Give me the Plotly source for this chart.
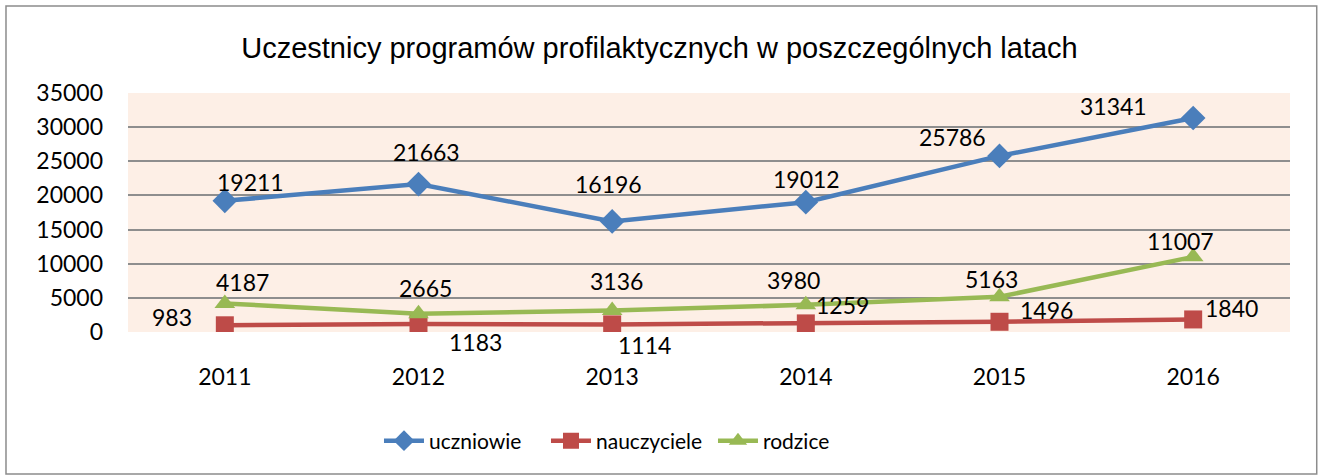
import plotly.graph_objects as go

years = ["2011", "2012", "2013", "2014", "2015", "2016"]
uczniowie = [19211, 21663, 16196, 19012, 25786, 31341]
nauczyciele = [983, 1183, 1114, 1259, 1496, 1840]
rodzice = [4187, 2665, 3136, 3980, 5163, 11007]
y_ticks = [0, 5000, 10000, 15000, 20000, 25000, 30000, 35000]

# label offsets (px) relative to each point
off_u = [(26, -19), (8, -32), (-4, -37), (1, -23), (-47, -19), (-80, -12)]
off_n = [(-53, -8), (57, 18), (32, 21), (37, -18), (47, -12), (38, -11)]
off_r = [(18, -21), (7, -26), (4, -30), (-12, -25), (-8, -18), (-13, -16)]

BLUE = "#4A7EBB"
RED = "#BE4B48"
GREEN = "#98B954"
FONT = "Lato"

fig = go.Figure()
fig.add_trace(go.Scatter(x=years, y=uczniowie, name="uczniowie", mode="lines+markers",
                         line=dict(color=BLUE, width=4.5),
                         marker=dict(symbol="diamond", size=19, color=BLUE)))
fig.add_trace(go.Scatter(x=years, y=nauczyciele, name="nauczyciele", mode="lines+markers",
                         line=dict(color=RED, width=4.5),
                         marker=dict(symbol="square", size=18, color=RED)))
fig.add_trace(go.Scatter(x=years, y=rodzice, name="rodzice", mode="lines+markers",
                         line=dict(color=GREEN, width=4.5),
                         marker=dict(symbol="triangle-up", size=18, color=GREEN)))

annotations = []
for vals, offs in ((uczniowie, off_u), (nauczyciele, off_n), (rodzice, off_r)):
    for i, (v, (dx, dy)) in enumerate(zip(vals, offs)):
        annotations.append(dict(x=i, y=v, xref="x", yref="y", text=str(v), showarrow=False,
                                xshift=dx, yshift=-dy,
                                font=dict(family=FONT, size=23, color="#000000")))

fig.update_layout(
    width=1319, height=475,
    margin=dict(l=128, r=29, t=93, b=143),
    paper_bgcolor="white",
    plot_bgcolor="#FDEFE6",
    title=dict(text="Uczestnicy programów profilaktycznych w poszczególnych latach",
               x=0.5, xanchor="center", y=0.90, yanchor="middle",
               font=dict(family="Liberation Sans", size=29, color="#000000")),
    showlegend=True,
    legend=dict(orientation="h", x=0.216, xanchor="left", y=-0.456, yanchor="middle",
                font=dict(family=FONT, size=21, color="#000000"),
                itemwidth=40, entrywidth=112, bgcolor="rgba(0,0,0,0)"),
    annotations=annotations,
    shapes=[dict(type="rect", xref="paper", yref="paper",
                 x0=-0.105, x1=1.023, y0=-0.594, y1=1.364,
                 line=dict(color="#8C8C8C", width=1.5), fillcolor="rgba(0,0,0,0)",
                 layer="below")],
)
fig.update_xaxes(type="category", range=[-0.5, 5.5], showgrid=False,
                 showline=False, zeroline=False, ticks="",
                 ticklabelstandoff=29,
                 tickfont=dict(family=FONT, size=23, color="#000000"))
fig.update_yaxes(range=[0, 35000], tickvals=y_ticks, tickformat="d", showgrid=True,
                 gridcolor="#8E8E8E", gridwidth=1.5, zeroline=False,
                 showline=False, ticks="", ticklabelstandoff=24,
                 tickfont=dict(family=FONT, size=23, color="#000000"))

fig.write_html("out.html", config={"displayModeBar": False},
               post_script="document.body.style.margin='0';")
